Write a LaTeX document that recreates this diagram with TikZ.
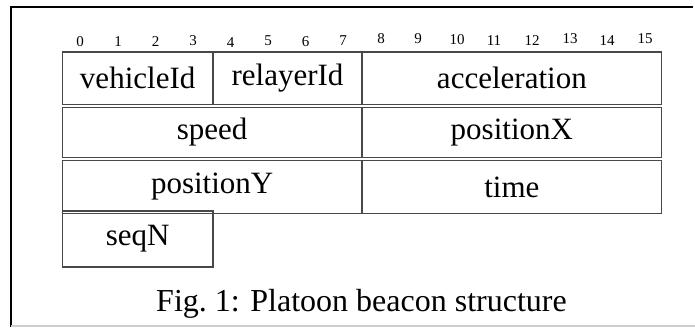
\documentclass[tikz,border=0pt]{standalone}
\usepackage{fontspec}
\setmainfont{Liberation Serif}
\definecolor{linegray}{RGB}{72,72,72}
\definecolor{framegray}{RGB}{205,205,205}
\begin{document}
\begin{tikzpicture}[x=1pt,y=-1pt,
  field/.style={draw=linegray, line width=1.2pt, inner sep=0pt, outer sep=0pt,
    anchor=north west, font=\fontsize{31}{31}\selectfont},
  bitnum/.style={anchor=base, inner sep=0pt, font=\fontsize{15}{15}\selectfont}]
  \path[use as bounding box] (0,0) rectangle (695,327);
  \fill[white] (0,0) rectangle (695,327);

  % page frame: dark top and left edges, light bottom rule
  \draw[black, line width=2.2pt] (11,327) -- (11,7) -- (693,7);
  \draw[framegray, line width=1.2pt] (11,326) -- (695,326);

  % bit indices
  \foreach \n/\x/\y in {0/80/46, 1/118/46.7, 2/155.5/46.7, 3/193/45,
      4/230.5/47.3, 5/268/45, 6/305.5/46, 7/343/45,
      8/381/43.3, 9/418/43.3, 10/457/44.3, 11/494/45.7,
      12/532/45.7, 13/570/43.3, 14/607/45.7, 15/645/43.3}
    \node[bitnum] (bit\n) at (\x,\y) {\n};

  % row 1
  \node[field, minimum width=150.7pt, minimum height=52.3pt] (vehicleId) at (62.3,52) {vehicleId};
  \node[field, minimum width=149pt,   minimum height=52.3pt] (relayerId) at (213,52) {relayerId};
  \node[field, minimum width=299.7pt, minimum height=52.3pt] (acceleration) at (362,52) {acceleration};
  % row 2
  \node[field, minimum width=299.7pt, minimum height=49.6pt] (speed) at (62.3,107.7) {speed};
  \node[field, minimum width=299.7pt, minimum height=49.6pt] (positionX) at (362,107.7) {positionX};
  % row 3
  \node[field, minimum width=299.7pt, minimum height=52.6pt] (positionY) at (62.3,160.7) {positionY};
  \node[field, minimum width=299.7pt, minimum height=52.6pt] (time) at (362,160.7) {time};
  % row 4
  \node[field, minimum width=150.7pt, minimum height=56pt] (seqN) at (62.3,211) {seqN};

  % caption
  \node[anchor=base, inner sep=0pt, font=\fontsize{32}{32}\selectfont] (caption)
    at (361.5,311.7) {Fig.~1: Platoon beacon structure};
\end{tikzpicture}
\end{document}
